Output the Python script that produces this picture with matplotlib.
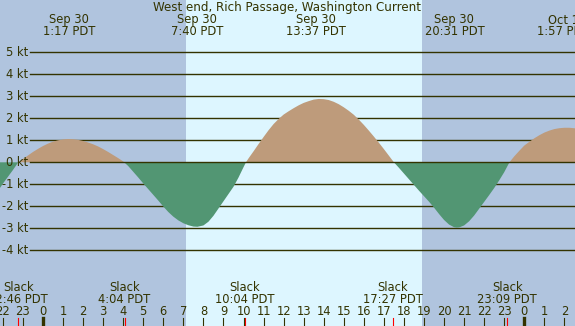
import numpy as np
import matplotlib.pyplot as plt

#######################################
## Data (hours from midnight Sep 30, current in knots)
#######################################
hours = [-2.15, -2.0, -1.75, -1.5, -1.25, -1.0, -0.75, -0.5, -0.25,
         0.0, 0.25, 0.5, 0.75, 1.0, 1.25, 1.5, 1.75, 2.0, 2.25, 2.5, 2.75, 3.0, 3.25, 3.5, 3.75,
         4.0, 4.25, 4.5, 4.75, 5.0, 5.25, 5.5, 5.75, 6.0, 6.25, 6.5, 6.75, 7.0, 7.25, 7.5, 7.7,
         8.0, 8.25, 8.5, 8.75, 9.0, 9.25, 9.5, 9.75, 10.0, 10.12,
         10.25, 10.5, 10.75, 11.0, 11.25, 11.5, 11.75, 12.0, 12.25, 12.5, 12.75, 13.0, 13.25, 13.5, 13.75,
         14.0, 14.25, 14.5, 14.75, 15.0, 15.25, 15.5, 15.75, 16.0, 16.25, 16.5, 16.75, 17.0, 17.25, 17.5,
         17.75, 18.0, 18.25, 18.5, 18.75, 19.0, 19.25, 19.5, 19.75, 20.0, 20.25, 20.5, 20.63,
         20.75, 21.0, 21.25, 21.5, 21.75, 22.0, 22.25, 22.5, 22.75, 23.0, 23.26,
         23.5, 23.75, 24.0, 24.25, 24.5, 24.75, 25.0, 25.25, 25.5, 25.75, 26.0, 26.25, 26.6]
speed = [-1.17, -0.97, -0.66, -0.35, -0.02, 0.15, 0.31, 0.47, 0.61,
         0.74, 0.85, 0.94, 1.00, 1.04, 1.06, 1.05, 1.02, 0.97, 0.90, 0.82, 0.72, 0.60, 0.47, 0.33, 0.19,
         0.04, -0.17, -0.43, -0.69, -0.96, -1.22, -1.48, -1.74, -2.01, -2.26, -2.47, -2.64, -2.77, -2.86, -2.92, -2.93,
         -2.87, -2.70, -2.43, -2.10, -1.77, -1.44, -1.11, -0.69, -0.22, 0.0,
         0.18, 0.50, 0.83, 1.15, 1.46, 1.74, 1.97, 2.17, 2.32, 2.46, 2.59, 2.70, 2.78, 2.85, 2.88,
         2.87, 2.83, 2.75, 2.64, 2.50, 2.34, 2.16, 1.94, 1.70, 1.44, 1.17, 0.89, 0.60, 0.30, 0.0,
         -0.25, -0.51, -0.77, -1.03, -1.29, -1.54, -1.79, -2.06, -2.35, -2.62, -2.83, -2.95, -2.97,
         -2.96, -2.87, -2.68, -2.42, -2.11, -1.80, -1.49, -1.17, -0.82, -0.45, 0.0,
         0.27, 0.52, 0.76, 0.93, 1.09, 1.23, 1.35, 1.44, 1.51, 1.55, 1.57, 1.57, 1.54]

max_times = [1.283, 7.667, 13.617, 20.517, 25.95]
max_dates = ["Sep 30", "Sep 30", "Sep 30", "Sep 30", "Oct 1"]
max_labels = ["1:17 PDT", "7:40 PDT", "13:37 PDT", "20:31 PDT", "1:57 PDT"]

slack_times = [-1.233, 4.067, 10.067, 17.45, 23.15]
slack_labels = ["22:46 PDT", "4:04 PDT", "10:04 PDT", "17:27 PDT", "23:09 PDT"]

sunrise = 7.13
sunset = 18.9

kt_levels = [-4, -3, -2, -1, 0, 1, 2, 3, 4, 5]
hour_ticks = list(range(-2, 27))

title = "West end, Rich Passage, Washington Current"

NIGHT = '#B0C4DE'
DAY = '#DDF6FF'
FLOOD = '#BE9B7B'
EBB = '#529673'
INK = '#333300'

#######################################
## Plot
#######################################
fig = plt.figure(figsize=(5.75, 3.26), dpi=100)
ax = fig.add_axes([0, 0, 1, 1])
ax.set_axis_off()
x_lo, x_hi = -2.145, 26.53
ax.set_xlim(x_lo, x_hi)
ax.set_ylim(-7.44, 7.377)

ax.axvspan(x_lo, sunrise, color=NIGHT, zorder=0, lw=0)
ax.axvspan(sunrise, sunset, color=DAY, zorder=0, lw=0)
ax.axvspan(sunset, x_hi, color=NIGHT, zorder=0, lw=0)

ytrans = ax.get_yaxis_transform()
for k in kt_levels:
    ax.axhline(k, xmin=30/575, xmax=1, color=INK, lw=1.0, zorder=1 if k != 0 else 3)
    ax.text(28/575, k, "%d kt" % k, transform=ytrans, ha='right', va='center',
            fontsize=8.3, color=INK, zorder=5)

h = np.array(hours)
v = np.array(speed)
ax.fill_between(h, 0, v, where=v >= 0, interpolate=True, color=FLOOD, lw=0, zorder=2)
ax.fill_between(h, 0, v, where=v <= 0, interpolate=True, color=EBB, lw=0, zorder=2)

xtrans = ax.get_xaxis_transform()
ax.text(287/575, 1 - 7/326, title, transform=ax.transAxes, ha='center', va='center',
        fontsize=8.6, color=INK, zorder=5)
for t, d, lab in zip(max_times, max_dates, max_labels):
    ax.text(t, 1 - 20/326, d, transform=xtrans, ha='center', va='center', fontsize=8.3, color=INK, zorder=5)
    ax.text(t, 1 - 31.5/326, lab, transform=xtrans, ha='center', va='center', fontsize=8.3, color=INK, zorder=5)

for t, lab in zip(slack_times, slack_labels):
    ax.text(t, 1 - 287.5/326, "Slack", transform=xtrans, ha='center', va='center', fontsize=8.3, color=INK, zorder=5)
    ax.text(t, 1 - 299.5/326, lab, transform=xtrans, ha='center', va='center', fontsize=8.3, color=INK, zorder=5)
    ax.plot([t, t], [0, 8/326], transform=xtrans, color='red', lw=0.8, zorder=4)

for hr in hour_ticks:
    ax.text(hr, 1 - 311.5/326, str(hr % 24), transform=xtrans, ha='center', va='center',
            fontsize=8.3, color=INK, zorder=5)
    ax.plot([hr, hr], [0, 8/326], transform=xtrans, color=INK,
            lw=2.4 if hr % 24 == 0 else 0.8, zorder=4)

fig.savefig("out.png", dpi=100)
